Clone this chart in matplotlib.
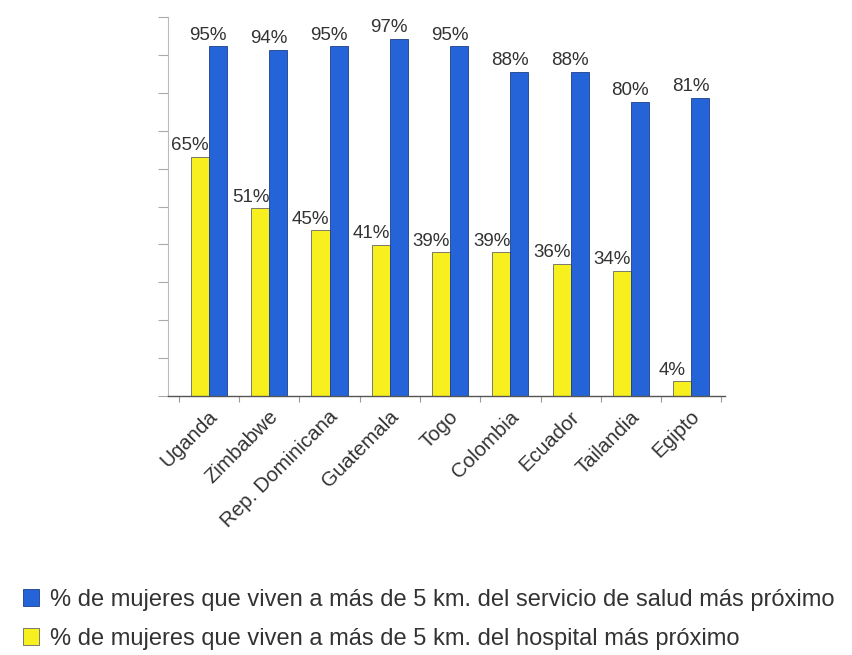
import numpy as np
import matplotlib
matplotlib.use("Agg")
import matplotlib.pyplot as plt
from matplotlib.transforms import ScaledTranslation

plt.rcParams['font.family'] = ['Liberation Sans', 'DejaVu Sans']

paises = ["Uganda", "Zimbabwe", "Rep. Dominicana", "Guatemala", "Togo",
          "Colombia", "Ecuador", "Tailandia", "Egipto"]
hospital = [65, 51, 45, 41, 39, 39, 36, 34, 4]
servicio_salud = [95, 94, 95, 97, 95, 88, 88, 80, 81]

etiqueta_salud = "% de mujeres que viven a más de 5 km. del servicio de salud más próximo"
etiqueta_hospital = "% de mujeres que viven a más de 5 km. del hospital más próximo"

azul = "#2563d8"
amarillo = "#f8f01e"
texto = "#333333"

fig = plt.figure(figsize=(8.53, 6.55), dpi=100)
ax = fig.add_axes([168 / 853, 259 / 655, 557 / 853, 379 / 655])

x = np.arange(len(paises))
w = 0.3
b_hosp = ax.bar(x - w / 2, hospital, w, color=amarillo, edgecolor="#666666", linewidth=0.6)
b_salud = ax.bar(x + w / 2, servicio_salud, w, color=azul, edgecolor="#1d3f8a", linewidth=0.6)

for barras, valores in ((b_hosp, hospital), (b_salud, servicio_salud)):
    for rect, v in zip(barras, valores):
        ax.annotate(f"{v}%", (rect.get_x() + rect.get_width() / 2, v),
                    xytext=(-7, 2), textcoords="offset points",
                    ha="center", va="bottom", fontsize=13.5, color=texto)

ax.set_xlim(-0.68, 8.56)
ax.set_ylim(0, 103)
ax.set_yticks(np.linspace(0, 103, 11))
ax.set_yticklabels([])
ax.tick_params(axis="y", direction="out", length=7, color="#aaaaaa", width=0.8)

ax.set_xticks(x)
ax.set_xticklabels(paises, rotation=45, ha="right", rotation_mode="anchor",
                   fontsize=14.7, color=texto)
ax.tick_params(axis="x", which="major", length=0, pad=8)
desplaza = ScaledTranslation(-1 / 72, 0, fig.dpi_scale_trans)
for lbl in ax.get_xticklabels():
    lbl.set_transform(lbl.get_transform() + desplaza)
ax.set_xticks(np.arange(-0.5, len(paises)), minor=True)
ax.tick_params(axis="x", which="minor", direction="out", length=4, color="#999999", width=0.8)

for s in ["top", "right"]:
    ax.spines[s].set_visible(False)
ax.spines["left"].set_color("#bbbbbb")
ax.spines["left"].set_linewidth(0.8)
ax.spines["bottom"].set_color("#555555")
ax.spines["bottom"].set_linewidth(1.0)

fig.legend([b_salud, b_hosp], [etiqueta_salud, etiqueta_hospital],
           loc="upper left", bbox_to_anchor=(6 / 853, 1 - 572 / 655),
           frameon=False, fontsize=17, handlelength=0.7, handleheight=0.7,
           handletextpad=0.45, labelspacing=0.72, labelcolor=texto, borderpad=0.2)

fig.savefig("out.png", dpi=100, facecolor="white")
